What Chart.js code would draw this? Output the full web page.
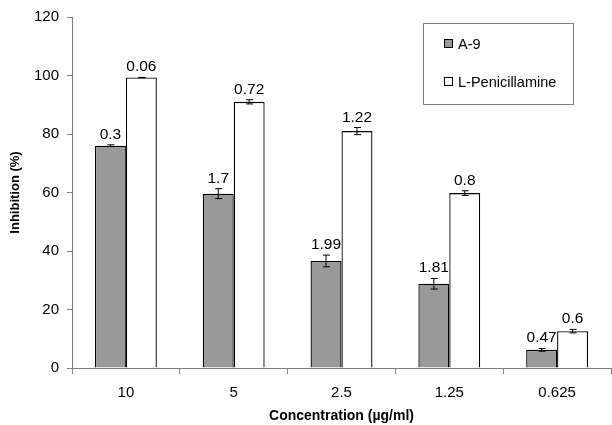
<!DOCTYPE html>
<html><head><meta charset="utf-8">
<script src="https://cdn.jsdelivr.net/npm/chart.js@4.4.1/dist/chart.umd.min.js"></script>
<style>html,body{margin:0;padding:0;background:#fff}#wrap{width:612px;height:425px}</style>
</head><body><div id="wrap"><canvas id="c" width="612" height="425"></canvas></div>
<script>
const categories = ['10', '5', '2.5', '1.25', '0.625'];
const a9 = [76.0, 59.6, 36.6, 28.8, 6.2];
const lpen = [99.3, 91.0, 81.0, 59.8, 12.6];
const a9Err = [0.3, 1.7, 1.99, 1.81, 0.47];
const lpenErr = [0.06, 0.72, 1.22, 0.8, 0.6];
const a9Labels = ['0.3', '1.7', '1.99', '1.81', '0.47'];
const lpenLabels = ['0.06', '0.72', '1.22', '0.8', '0.6'];
const yTicks = [0, 20, 40, 60, 80, 100, 120];

const FONT = '"Liberation Sans", Arial, sans-serif';

const extras = {
  id: 'extras',
  afterDatasetsDraw(chart) {
    const ctx = chart.ctx;
    const ys = chart.scales.y;
    const errs = [a9Err, lpenErr];
    const labs = [a9Labels, lpenLabels];
    chart.data.datasets.forEach((ds, di) => {
      const meta = chart.getDatasetMeta(di);
      meta.data.forEach((bar, i) => {
        const v = ds.data[i];
        const e = errs[di][i];
        const yT = ys.getPixelForValue(v + e);
        const yB = ys.getPixelForValue(v - e);
        const x = bar.x;
        ctx.save();
        ctx.strokeStyle = '#000';
        ctx.lineWidth = 1;
        ctx.beginPath();
        ctx.moveTo(x, yT); ctx.lineTo(x, yB);
        ctx.moveTo(x - 3, yT); ctx.lineTo(x + 4, yT);
        ctx.moveTo(x - 3, yB); ctx.lineTo(x + 4, yB);
        ctx.stroke();
        ctx.fillStyle = '#000';
        ctx.font = '15.5px ' + FONT;
        ctx.textAlign = 'center';
        ctx.textBaseline = 'alphabetic';
        ctx.fillText(labs[di][i], x, Math.min(yT, ys.getPixelForValue(v)) - 6);
        ctx.restore();
      });
    });
    // legend box
    ctx.save();
    ctx.strokeStyle = '#808080';
    ctx.lineWidth = 1;
    ctx.strokeRect(423.5, 23.5, 150, 81);
    const items = [['A-9', '#999999', 44], ['L-Penicillamine', '#ffffff', 82]];
    items.forEach(([t, c, y]) => {
      ctx.fillStyle = c;
      ctx.fillRect(444.5, y - 4.5, 8, 8);
      ctx.strokeStyle = '#000';
      ctx.strokeRect(444.5, y - 4.5, 8, 8);
      ctx.fillStyle = '#000';
      ctx.font = '14.5px ' + FONT;
      ctx.textAlign = 'left';
      ctx.textBaseline = 'middle';
      ctx.fillText(t, 458, y + 0.5);
    });
    ctx.restore();
  }
};

new Chart(document.getElementById('c'), {
  type: 'bar',
  data: {
    labels: categories,
    datasets: [
      { label: 'A-9', data: a9, backgroundColor: '#999999', borderColor: '#000', borderWidth: 1.3,
        categoryPercentage: 0.574, barPercentage: 1.0 },
      { label: 'L-Penicillamine', data: lpen, backgroundColor: '#ffffff', borderColor: '#000', borderWidth: 1.3,
        categoryPercentage: 0.574, barPercentage: 1.0 }
    ]
  },
  options: {
    responsive: false,
    animation: false,
    layout: { padding: { left: 8, right: 1, top: 15, bottom: 0 } },
    plugins: { legend: { display: false }, tooltip: { enabled: false } },
    scales: {
      x: {
        grid: { display: true, drawOnChartArea: false, drawTicks: true, tickLength: 6, offset: true, color: '#808080' },
        border: { display: true, color: '#808080', width: 1 },
        ticks: { color: '#000', font: { family: FONT, size: 15 }, padding: 10 },
        title: { display: true, text: 'Concentration (µg/ml)', color: '#000', font: { family: FONT, size: 14, weight: 'bold' }, padding: { top: 2, bottom: 0 } },
        afterFit(s) { s.height = 57; }
      },
      y: {
        min: 0, max: 120,
        afterBuildTicks(s) { s.ticks = yTicks.map(v => ({ value: v })); },
        grid: { display: true, drawOnChartArea: false, drawTicks: true, tickLength: 5, color: '#808080' },
        border: { display: true, color: '#808080', width: 1 },
        ticks: { color: '#000', font: { family: FONT, size: 15 }, padding: 8 },
        title: { display: true, text: 'Inhibition (%)', color: '#000', font: { family: FONT, size: 13, weight: 'bold' }, padding: { top: 0, bottom: 6 } },
        afterFit(s) { s.width = 64; }
      }
    }
  },
  plugins: [extras]
});
</script></body></html>
